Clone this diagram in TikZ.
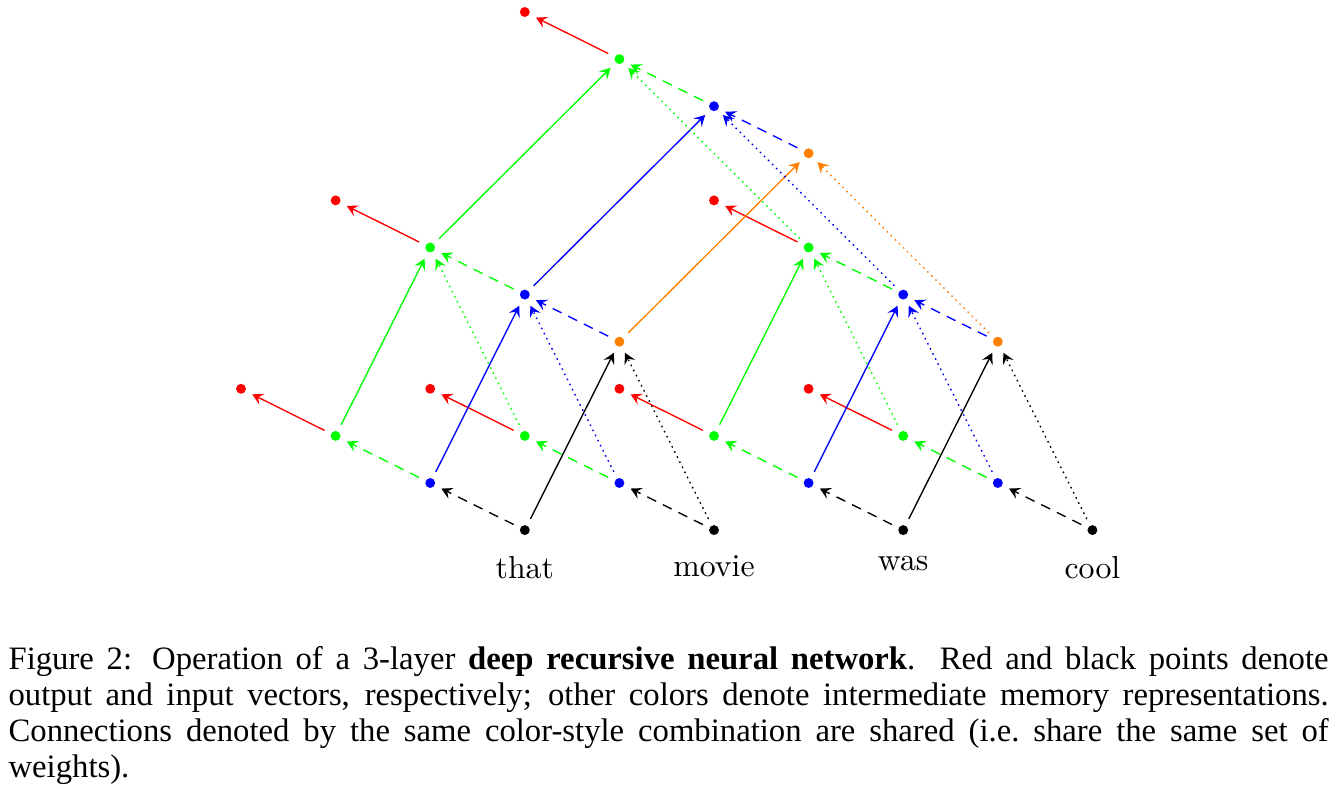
\documentclass[tikz,border=0pt]{standalone}
\usepackage{fontspec}
\newfontfamily\capfont{Liberation Serif}
\usetikzlibrary{arrows.meta}
\begin{document}
\begin{tikzpicture}[x=0.333333pt,y=-0.333333pt,
  pt/.style={circle, fill=#1, draw=none, inner sep=0pt, minimum size=3.3pt, outer sep=2.5pt},
  conn/.style={-{Stealth[length=3.6pt, width=3.9pt, inset=1.4pt]}, line width=0.45pt, draw=#1},
  dsh/.style={dash pattern=on 3.3pt off 2.5pt},
  dtt/.style={dash pattern=on 0.55pt off 1.35pt},
  word/.style={label={[font=\fontsize{10.6pt}{12pt}\selectfont, inner sep=3.3pt, label distance=1pt]below:#1}}]
\useasboundingbox (0,0) rectangle (1336,789);
% inputs (row 11)
\node[pt=black, word=that]  (i1) at (524.8,530.1) {};
\node[pt=black, word=movie] (i2) at (714,530.1) {};
\node[pt=black, word=was]   (i3) at (903.2,530.1) {};
\node[pt=black, word=cool]  (i4) at (1092.4,530.1) {};
% layer 1
\node[pt=blue] (b1) at (430.2,483) {};
\node[pt=blue] (b2) at (619.4,483) {};
\node[pt=blue] (b3) at (808.6,483) {};
\node[pt=blue] (b4) at (997.8,483) {};
\node[pt=green] (g1) at (335.6,435.9) {};
\node[pt=green] (g2) at (524.8,435.9) {};
\node[pt=green] (g3) at (714,435.9) {};
\node[pt=green] (g4) at (903.2,435.9) {};
\node[pt=red] (r1) at (241,388.8) {};
\node[pt=red] (r2) at (430.2,388.8) {};
\node[pt=red] (r3) at (619.4,388.8) {};
\node[pt=red] (r4) at (808.6,388.8) {};
% layer 2
\node[pt=orange] (o21) at (619.4,341.7) {};
\node[pt=orange] (o22) at (997.8,341.7) {};
\node[pt=blue] (b21) at (524.8,294.6) {};
\node[pt=blue] (b22) at (903.2,294.6) {};
\node[pt=green] (g21) at (430.2,247.5) {};
\node[pt=green] (g22) at (808.6,247.5) {};
\node[pt=red] (r21) at (335.6,200.4) {};
\node[pt=red] (r22) at (714,200.4) {};
% layer 3
\node[pt=orange] (o3) at (808.6,153.3) {};
\node[pt=blue] (b3t) at (714,106.2) {};
\node[pt=green] (g3t) at (619.4,59.1) {};
\node[pt=red] (r3t) at (524.8,12) {};
% layer 1 connections
\foreach \n in {1,2,3,4} {
  \draw[conn=black, dsh] (i\n) -- (b\n);
  \draw[conn=green, dsh] (b\n) -- (g\n);
  \draw[conn=red] (g\n) -- (r\n);
}
% layer 2 connections
\draw[conn=black] (i1) -- (o21);
\draw[conn=black, dtt] (i2) -- (o21);
\draw[conn=black] (i3) -- (o22);
\draw[conn=black, dtt] (i4) -- (o22);
\draw[conn=blue] (b1) -- (b21);
\draw[conn=blue, dtt] (b2) -- (b21);
\draw[conn=blue, dsh] (o21) -- (b21);
\draw[conn=blue] (b3) -- (b22);
\draw[conn=blue, dtt] (b4) -- (b22);
\draw[conn=blue, dsh] (o22) -- (b22);
\draw[conn=green] (g1) -- (g21);
\draw[conn=green, dtt] (g2) -- (g21);
\draw[conn=green, dsh] (b21) -- (g21);
\draw[conn=green] (g3) -- (g22);
\draw[conn=green, dtt] (g4) -- (g22);
\draw[conn=green, dsh] (b22) -- (g22);
\draw[conn=red] (g21) -- (r21);
\draw[conn=red] (g22) -- (r22);
% layer 3 connections
\draw[conn=orange] (o21) -- (o3);
\draw[conn=orange, dtt] (o22) -- (o3);
\draw[conn=blue] (b21) -- (b3t);
\draw[conn=blue, dtt] (b22) -- (b3t);
\draw[conn=blue, dsh] (o3) -- (b3t);
\draw[conn=green] (g21) -- (g3t);
\draw[conn=green, dtt] (g22) -- (g3t);
\draw[conn=green, dsh] (b3t) -- (g3t);
\draw[conn=red] (g3t) -- (r3t);
% caption
\node[anchor=base west, inner sep=0pt, text width=440pt, align=justify,
      font=\capfont\fontsize{10.9pt}{12.1pt}\selectfont] (cap) at (8,669)
 {Figure 2: Operation of a 3-layer \textbf{deep recursive neural network}. Red and black points denote\linebreak
  output and input vectors, respectively; other colors denote intermediate memory representations.\linebreak
  Connections denoted by the same color-style combination are shared (i.e.\ share the same set of\linebreak
  weights).};
\end{tikzpicture}
\end{document}
